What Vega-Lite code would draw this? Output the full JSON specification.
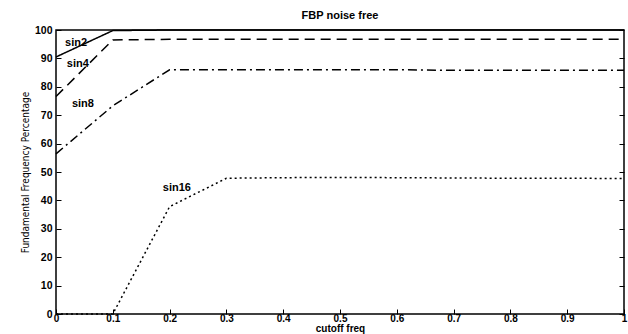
{
  "$schema": "https://vega.github.io/schema/vega-lite/v6.json",
  "autosize": "none",
  "width": 568,
  "height": 284,
  "padding": {"left": 56, "top": 30, "right": 4, "bottom": 20},
  "background": "white",
  "config": {
    "view": {"stroke": "black", "strokeWidth": 1.5},
    "font": "Liberation Sans"
  },
  "title": {"text": "FBP  noise free", "fontSize": 11, "fontWeight": "bold", "offset": 4, "color": "black"},
  "datasets": {
    "lines": [
      {"s": "sin2", "x": 0, "y": 90.5},
      {"s": "sin2", "x": 0.1, "y": 99.8},
      {"s": "sin2", "x": 0.2, "y": 100},
      {"s": "sin2", "x": 0.3, "y": 100},
      {"s": "sin2", "x": 0.4, "y": 100},
      {"s": "sin2", "x": 0.5, "y": 100},
      {"s": "sin2", "x": 0.6, "y": 100},
      {"s": "sin2", "x": 0.7, "y": 100},
      {"s": "sin2", "x": 0.8, "y": 100},
      {"s": "sin2", "x": 0.9, "y": 100},
      {"s": "sin2", "x": 1, "y": 100},
      {"s": "sin4", "x": 0, "y": 76.6},
      {"s": "sin4", "x": 0.1, "y": 96.5},
      {"s": "sin4", "x": 0.2, "y": 96.7},
      {"s": "sin4", "x": 0.3, "y": 96.7},
      {"s": "sin4", "x": 0.4, "y": 96.7},
      {"s": "sin4", "x": 0.5, "y": 96.7},
      {"s": "sin4", "x": 0.6, "y": 96.7},
      {"s": "sin4", "x": 0.7, "y": 96.7},
      {"s": "sin4", "x": 0.8, "y": 96.7},
      {"s": "sin4", "x": 0.9, "y": 96.7},
      {"s": "sin4", "x": 1, "y": 96.7},
      {"s": "sin8", "x": 0, "y": 56.4},
      {"s": "sin8", "x": 0.1, "y": 73.3},
      {"s": "sin8", "x": 0.2, "y": 86},
      {"s": "sin8", "x": 0.3, "y": 86},
      {"s": "sin8", "x": 0.4, "y": 86},
      {"s": "sin8", "x": 0.5, "y": 86},
      {"s": "sin8", "x": 0.6, "y": 86},
      {"s": "sin8", "x": 0.7, "y": 85.8},
      {"s": "sin8", "x": 0.8, "y": 85.8},
      {"s": "sin8", "x": 0.9, "y": 85.8},
      {"s": "sin8", "x": 1, "y": 85.8},
      {"s": "sin16", "x": 0, "y": 0},
      {"s": "sin16", "x": 0.1, "y": 0},
      {"s": "sin16", "x": 0.2, "y": 37.8},
      {"s": "sin16", "x": 0.3, "y": 47.8},
      {"s": "sin16", "x": 0.4, "y": 48},
      {"s": "sin16", "x": 0.5, "y": 48.1},
      {"s": "sin16", "x": 0.6, "y": 48},
      {"s": "sin16", "x": 0.7, "y": 47.9},
      {"s": "sin16", "x": 0.8, "y": 47.8},
      {"s": "sin16", "x": 0.9, "y": 47.8},
      {"s": "sin16", "x": 1, "y": 47.7}
    ],
    "labels": [
      {"t": "sin2", "x": 0.016, "y": 95.5},
      {"t": "sin4", "x": 0.019, "y": 88},
      {"t": "sin8", "x": 0.028, "y": 74},
      {"t": "sin16", "x": 0.188, "y": 44.4}
    ]
  },
  "resolve": {"axis": {"y": "independent"}},
  "layer": [
    {
      "data": {"name": "lines"},
      "mark": {"type": "line", "color": "black", "strokeWidth": 1.5},
      "encoding": {
        "x": {
          "field": "x", "type": "quantitative",
          "scale": {"domain": [0, 1], "nice": false},
          "axis": {
            "values": [0, 0.1, 0.2, 0.3, 0.4, 0.5, 0.6, 0.7, 0.8, 0.9, 1],
            "labelExpr": "datum.value == 0 ? '0' : datum.value == 1 ? '1' : format(datum.value, '.1f')",
            "title": "cutoff freq", "titleFontSize": 10, "titleFontWeight": "bold", "titlePadding": 0, "titleColor": "black",
            "labelFontSize": 10, "labelFontWeight": "bold", "labelColor": "black",
            "tickSize": -5, "tickColor": "black", "labelPadding": 4, "labelOverlap": false,
            "domain": false, "grid": false, "labelFlush": false
          }
        },
        "y": {
          "field": "y", "type": "quantitative",
          "scale": {"domain": [0, 100], "nice": false},
          "axis": {
            "values": [0, 10, 20, 30, 40, 50, 60, 70, 80, 90, 100],
            "title": "Fundamental Frequency Percentage", "titleFontSize": 10, "titleFont": "DejaVu Sans Condensed", "titlePadding": 4, "titleFontWeight": "normal", "titleColor": "black",
            "labelFontSize": 10.5, "labelFontWeight": "bold", "labelColor": "black",
            "tickSize": -5, "tickColor": "black", "labelPadding": 9, "labelOverlap": false,
            "domain": false, "grid": false
          }
        },
        "detail": {"field": "s"},
        "strokeDash": {
          "field": "s", "type": "nominal",
          "scale": {"domain": ["sin2", "sin4", "sin8", "sin16"], "range": [[1, 0], [10, 6], [9, 4, 2, 4], [2, 3]]},
          "legend": null
        }
      }
    },
    {
      "data": {"name": "labels"},
      "mark": {"type": "text", "align": "left", "baseline": "middle", "fontSize": 11, "fontWeight": "bold", "color": "black"},
      "encoding": {
        "x": {"field": "x", "type": "quantitative"},
        "y": {
          "field": "y", "type": "quantitative",
          "axis": {
            "orient": "right", "values": [0, 10, 20, 30, 40, 50, 60, 70, 80, 90, 100],
            "labels": false, "title": null, "tickSize": -5, "tickColor": "black",
            "domain": false, "grid": false
          }
        },
        "text": {"field": "t"}
      }
    }
  ]
}
